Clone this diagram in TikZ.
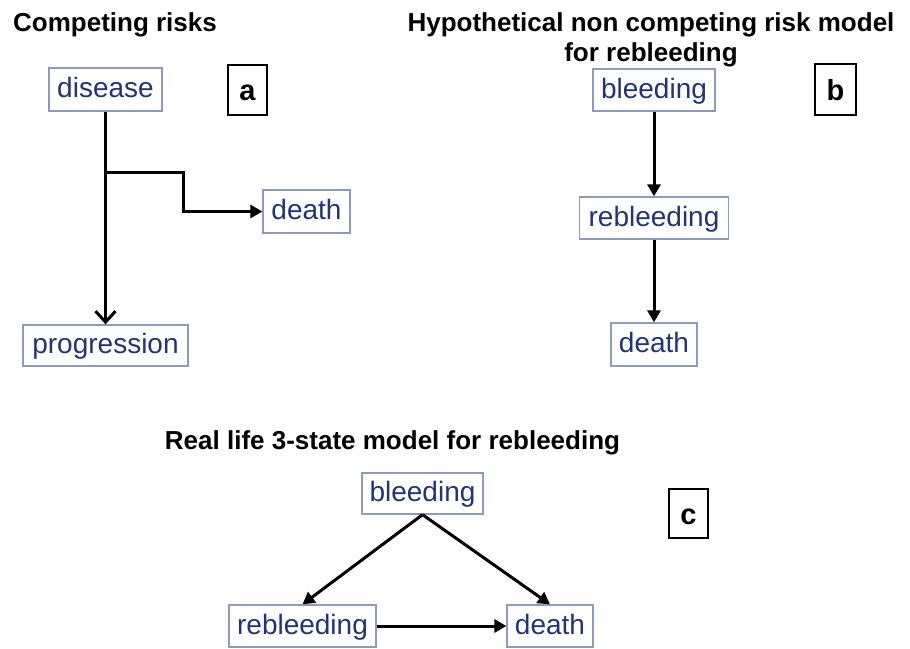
\documentclass[tikz,border=0pt]{standalone}
\usepackage{fontspec}
\setmainfont{Liberation Sans}
\usetikzlibrary{arrows.meta}
\definecolor{txtblue}{RGB}{32,52,118}
\definecolor{boxedge}{RGB}{140,155,185}
\begin{document}
\begin{tikzpicture}[x=1pt,y=-1pt,
  state/.style={draw=boxedge,line width=1.3pt,text=txtblue,font=\fontsize{28}{30}\selectfont,inner sep=0pt,text height=21pt,text depth=5pt},
  tag/.style={draw=black,line width=2.2pt,font=\bfseries\fontsize{29}{30}\selectfont,inner sep=0pt,text height=21pt,text depth=0pt},
  ttl/.style={font=\bfseries\fontsize{26}{30}\selectfont,align=center,inner sep=0pt},
  conn/.style={line width=3pt,-{Triangle[length=12pt,width=13pt]}},
  openconn/.style={line width=3pt,-{Straight Barb[length=11pt,width=20pt]}},
]
\useasboundingbox (0,0) rectangle (910,648);

% ---------- panel a ----------
\node[ttl] (ttla) at (115,25) {Competing risks};
\node[state,minimum width=113pt,minimum height=43pt] (disease) at (105.5,89.5) {disease};
\node[tag,minimum width=39pt,minimum height=50pt] (taga) at (247.5,90) {a};
\node[state,minimum width=87pt,minimum height=43pt] (deatha) at (306.5,211.5) {death};
\node[state,minimum width=165pt,minimum height=41pt] (progression) at (105.5,345.5) {progression};
\coordinate (split) at (105.5,172);
\draw[openconn] (disease.south) -- (progression.north);
\draw[conn] (split) -- (183,172) -- (183,211.5) -- (deatha.west);

% ---------- panel b ----------
\node[ttl] (ttlb) at (651,40) {Hypothetical non competing risk model\\for rebleeding};
\node[state,minimum width=122pt,minimum height=42pt] (bleedb) at (654,90) {bleeding};
\node[tag,minimum width=41pt,minimum height=51pt] (tagb) at (835.5,89.5) {b};
\node[state,minimum width=149pt,minimum height=42pt] (rebleedb) at (654,218) {rebleeding};
\node[state,minimum width=86pt,minimum height=43pt] (deathb) at (654,344.5) {death};
\draw[conn] (bleedb.south) -- (rebleedb.north);
\draw[conn] (rebleedb.south) -- (deathb.north);

% ---------- panel c ----------
\node[ttl] (ttlc) at (392.5,443) {Real life 3-state model for rebleeding};
\node[state,minimum width=121pt,minimum height=41pt] (bleedc) at (422.5,493.5) {bleeding};
\node[tag,minimum width=39pt,minimum height=49pt] (tagc) at (688.5,513.5) {c};
\node[state,minimum width=147pt,minimum height=42pt] (rebleedc) at (302.5,626) {rebleeding};
\node[state,minimum width=86pt,minimum height=42pt] (deathc) at (550,626) {death};
\draw[conn] (bleedc.south) -- (rebleedc.north);
\draw[conn] (bleedc.south) -- (deathc.north);
\draw[conn] (rebleedc.east) -- (deathc.west);
\end{tikzpicture}
\end{document}
